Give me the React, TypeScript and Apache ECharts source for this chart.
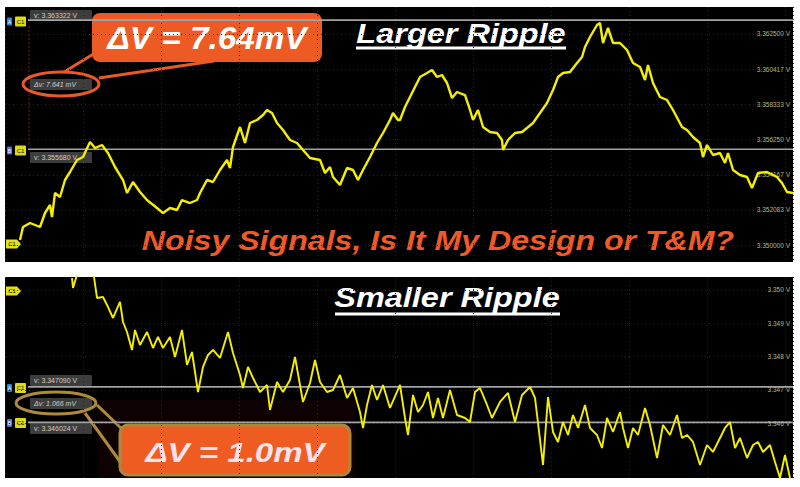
import React, { useEffect, useRef } from "react";
import * as echarts from "echarts";

// Time (µs, arbitrary scope units) vs. voltage (V)
const topTrace: [number, number][] = [
  [15, 3.350307], [18, 3.351076], [25, 3.351313], [35, 3.351076], [40, 3.351905], [45, 3.352379], [47, 3.351668],
  [50, 3.353089], [55, 3.352852], [60, 3.353858], [65, 3.354332], [72, 3.355042], [78, 3.35522], [85, 3.356107],
  [90, 3.355752], [97, 3.35593], [103, 3.355456], [110, 3.354628], [118, 3.353858], [122, 3.353089], [128, 3.35374],
  [135, 3.353148], [142, 3.352674], [152, 3.352201], [158, 3.351905], [165, 3.352201], [172, 3.352083], [177, 3.352674],
  [185, 3.352497], [192, 3.352674], [195, 3.353089], [202, 3.353858], [208, 3.35374], [215, 3.35445], [222, 3.355042],
  [225, 3.354569], [228, 3.355812], [235, 3.356995], [240, 3.356048], [245, 3.357232], [252, 3.35741], [258, 3.357706],
  [262, 3.358002], [267, 3.357824], [272, 3.357232], [278, 3.356818], [285, 3.356226], [292, 3.356048], [298, 3.355634],
  [305, 3.35516], [315, 3.355042], [320, 3.354273], [325, 3.354628], [328, 3.354036], [335, 3.353562], [342, 3.354569],
  [348, 3.35445], [353, 3.353858], [358, 3.35445], [365, 3.35522], [372, 3.356048], [378, 3.35664], [385, 3.35741],
  [388, 3.357824], [393, 3.35741], [395, 3.35741], [400, 3.358179], [405, 3.358771], [410, 3.359363], [415, 3.359955],
  [422, 3.360192], [427, 3.360369], [432, 3.359955], [437, 3.360073], [442, 3.3596], [447, 3.358712], [452, 3.359067],
  [460, 3.358889], [465, 3.358002], [468, 3.35741], [473, 3.358002], [478, 3.356995], [485, 3.356699], [492, 3.35664],
  [497, 3.356226], [498, 3.355634], [503, 3.356226], [510, 3.35664], [517, 3.356699], [522, 3.356936], [528, 3.357232],
  [535, 3.357824], [542, 3.358416], [548, 3.359185], [553, 3.359955], [558, 3.360192], [565, 3.360251], [572, 3.360783],
  [577, 3.361139], [580, 3.36173], [585, 3.362322], [592, 3.363033], [595, 3.363151], [598, 3.361967], [603, 3.362855],
  [608, 3.361967], [615, 3.361967], [622, 3.361553], [628, 3.360783], [635, 3.360547], [640, 3.359777], [643, 3.360665],
  [648, 3.3596], [655, 3.358771], [662, 3.358593], [668, 3.358002], [677, 3.356995], [682, 3.356818], [688, 3.356403],
  [695, 3.356048], [698, 3.35522], [702, 3.35593], [708, 3.355338], [715, 3.355456], [720, 3.354864], [723, 3.355456],
  [728, 3.35445], [735, 3.354154], [742, 3.354036], [747, 3.353385], [753, 3.354273], [762, 3.354332], [772, 3.354036],
  [777, 3.353681], [782, 3.353148], [788, 3.353089],
];

const bottomTrace: [number, number][] = [
  [67, 3.35036], [68, 3.35006], [75, 3.350751], [88, 3.350601], [92, 3.34976], [98, 3.34979], [102, 3.34955],
  [108, 3.349159], [115, 3.34964], [118, 3.349039], [122, 3.348739], [127, 3.348198], [130, 3.348799], [135, 3.348348],
  [142, 3.348739], [148, 3.348258], [153, 3.348589], [158, 3.348258], [165, 3.348589], [170, 3.347988], [177, 3.348799],
  [182, 3.347748], [187, 3.348138], [193, 3.346937], [198, 3.347688], [203, 3.348048], [208, 3.348198], [215, 3.347958],
  [223, 3.348739], [228, 3.348108], [235, 3.347447], [238, 3.347057], [243, 3.347688], [248, 3.347357], [255, 3.346937],
  [262, 3.347147], [265, 3.346396], [272, 3.347237], [278, 3.346937], [285, 3.347297], [290, 3.347988], [295, 3.347147],
  [298, 3.346637], [305, 3.347207], [310, 3.347898], [315, 3.347237], [322, 3.346937], [328, 3.346997], [335, 3.347447],
  [342, 3.346757], [348, 3.347057], [355, 3.346336], [358, 3.345856], [362, 3.346547], [367, 3.347147], [372, 3.346697],
  [378, 3.347147], [385, 3.346457], [392, 3.346937], [395, 3.347147], [400, 3.346156], [403, 3.345646], [408, 3.346847],
  [413, 3.346336], [418, 3.346547], [423, 3.346937], [428, 3.346156], [433, 3.346757], [438, 3.346156], [445, 3.346997],
  [452, 3.346246], [460, 3.346156], [465, 3.346036], [470, 3.346937], [475, 3.347057], [482, 3.346547], [487, 3.346156],
  [495, 3.346637], [503, 3.346907], [510, 3.346036], [517, 3.346847], [525, 3.347087], [530, 3.346757], [533, 3.346006],
  [538, 3.344745], [543, 3.346787], [548, 3.345736], [553, 3.345436], [558, 3.346036], [563, 3.345646], [568, 3.346246],
  [573, 3.345856], [580, 3.346547], [585, 3.345856], [592, 3.345646], [597, 3.345255], [602, 3.346156], [608, 3.345736],
  [615, 3.346336], [618, 3.345856], [623, 3.345255], [628, 3.345856], [633, 3.345646], [640, 3.346457], [645, 3.345946],
  [652, 3.344955], [658, 3.345946], [665, 3.345646], [672, 3.346246], [677, 3.345556], [682, 3.345646], [688, 3.345436],
  [695, 3.344745], [702, 3.345345], [708, 3.345135], [715, 3.345556], [720, 3.345856], [725, 3.346036], [730, 3.345255],
  [735, 3.345556], [742, 3.344955], [748, 3.345345], [753, 3.345436], [758, 3.345135], [765, 3.345345], [770, 3.344835],
  [775, 3.344354], [780, 3.345045], [785, 3.344354],
];

const topTicks = [3.35, 3.352083, 3.354167, 3.35625, 3.358333, 3.360417, 3.3625];
const bottomTicks = [3.346, 3.347, 3.348, 3.349, 3.35];
const topCursors = [3.363322, 3.35568];
const bottomCursors = [3.34709, 3.346024];
const topRange = [3.349005, 3.364098];
const bottomRange = [3.344354, 3.35039];
const timeRange = [0, 788];
const cursorSpan = [23, 788];
const topReadouts = ["v: 3.363322 V", "Δv: 7.641 mV", "v: 3.355680 V"];
const bottomReadouts = ["v: 3.347090 V", "Δv: 1.066 mV", "v: 3.346024 V"];

const FONT = '"Liberation Sans", Arial, Helvetica, sans-serif';
const TRACE = "#f4ef00";
const GRIDC = "#262626";

function box(x: number, y: number, text: string, italic = false): any[] {
  return [
    { type: "rect", shape: { x, y, width: 62, height: 11, r: 1 }, style: { fill: "#3d3d3d" } },
    {
      type: "text", x: x + 4, y: y + 5.5,
      style: { text, fill: "#cfcfcf", fontSize: 7, fontFamily: FONT, fontStyle: italic ? "italic" : "normal", align: "left", verticalAlign: "middle" },
    },
  ];
}

function marker(y: number, letter: string): any[] {
  return [
    { type: "rect", shape: { x: 7, y: y - 4, width: 5, height: 8, r: 1 }, style: { fill: letter === "A" ? "#2f86d6" : "#5b6fd8" } },
    { type: "text", x: 9.5, y, style: { text: letter, fill: "#fff", fontSize: 5, fontFamily: FONT, align: "center", verticalAlign: "middle" } },
    { type: "rect", shape: { x: 15, y: y - 5, width: 11, height: 10, r: 1 }, style: { fill: "#dcdc10" } },
    { type: "text", x: 20.5, y, style: { text: "C1", fill: "#111", fontSize: 6, fontFamily: FONT, align: "center", verticalAlign: "middle" } },
  ];
}

function pentagon(y: number): any[] {
  return [
    { type: "polygon", shape: { points: [[6, y - 4.5], [17, y - 4.5], [21, y], [17, y + 4.5], [6, y + 4.5]] }, style: { fill: "#e4e210" } },
    { type: "text", x: 12, y, style: { text: "C1", fill: "#111", fontSize: 6, fontFamily: FONT, align: "center", verticalAlign: "middle" } },
  ];
}

function bigText(text: string, x: number, y: number, size: number, fill: string, scaleX: number, extra: any = {}): any {
  return {
    type: "text", x, y, scaleX,
    style: { text, fill, fontSize: size, fontWeight: "bold", fontStyle: "italic", fontFamily: FONT, align: "center", verticalAlign: "middle", ...extra },
  };
}

export default function App() {
  const ref = useRef<HTMLDivElement>(null);
  useEffect(() => {
    if (!ref.current) return;
    const chart = echarts.init(ref.current, null, { renderer: "svg" });
    const xAxisBase = (gridIndex: number) => ({
      gridIndex, type: "value", min: timeRange[0], max: timeRange[1], interval: 78,
      axisLine: { show: false }, axisTick: { show: false }, axisLabel: { show: false },
      splitLine: { show: true, lineStyle: { color: GRIDC, type: [1, 3], width: 1 } },
    });
    const yAxisBase = (gridIndex: number, range: number[], ticks: number[], digits: number) => ({
      gridIndex, type: "value", position: "right", min: range[0], max: range[1], scale: true,
      axisLine: { show: false },
      axisTick: { show: false, customValues: ticks },
      axisLabel: {
        inside: true, customValues: ticks, margin: 3, fontSize: 6.5, color: "#bdb57a", fontFamily: FONT,
        formatter: (v: number) => v.toFixed(digits) + " V",
      },
      splitLine: { show: true, lineStyle: { color: GRIDC, type: [1, 3], width: 1 } },
    });
    const cursorSeries = (axisIndex: number, v: number) => ({
      type: "line", xAxisIndex: axisIndex, yAxisIndex: axisIndex, silent: true, showSymbol: false, z: 2,
      data: [[cursorSpan[0], v], [cursorSpan[1], v]],
      lineStyle: { color: "#a3a3a3", width: 1.6 },
    });

    const graphics: any[] = [
      // top panel annotations
      { type: "line", shape: { x1: 29, y1: 26, x2: 29, y2: 146 }, style: { stroke: "#8c1010", lineWidth: 1, lineDash: [2, 2] } },
      ...marker(21.5, "A"),
      ...box(30, 10, topReadouts[0]),
      ...box(30, 79, topReadouts[1], true),
      ...marker(150.5, "B"),
      ...box(30, 152, topReadouts[2]),
      ...pentagon(244),
      { type: "ellipse", shape: { cx: 61, cy: 84, rx: 38, ry: 12 }, style: { fill: "none", stroke: "#e85a28", lineWidth: 3 } },
      { type: "polyline", shape: { points: [[64, 72], [100, 50]] }, style: { stroke: "#e85a28", lineWidth: 3, fill: "none" } },
      { type: "polyline", shape: { points: [[99, 78], [214, 61]] }, style: { stroke: "#e85a28", lineWidth: 3, fill: "none" } },
      { type: "rect", shape: { x: 92, y: 13, width: 230, height: 49, r: 8 }, style: { fill: "#ee5a24" } },
      bigText("ΔV = 7.64mV", 207, 38, 32, "#ffffff", 1.04),
      bigText("Larger Ripple", 461, 33, 28, "#ffffff", 1.16),
      { type: "rect", shape: { x: 356, y: 46.5, width: 210, height: 3 }, style: { fill: "#ffffff" } },
      bigText("Noisy Signals, Is It My Design or T&M?", 438, 240, 27, "#f05a28", 1.19),

      // bottom panel annotations
      ...pentagon(291),
      ...marker(388, "A"),
      ...box(30, 375, bottomReadouts[0]),
      ...marker(423, "B"),
      ...box(30, 423, bottomReadouts[2]),
      { type: "rect", shape: { x: 98, y: 400, width: 258, height: 78 }, style: { fill: "#0d0101" } },
      ...box(30, 398, bottomReadouts[1], true),
      { type: "ellipse", shape: { cx: 56, cy: 403, rx: 40, ry: 11 }, style: { fill: "none", stroke: "#ae8a3c", lineWidth: 3 } },
      { type: "polyline", shape: { points: [[85, 413], [121, 463]] }, style: { stroke: "#ae8a3c", lineWidth: 3, fill: "none" } },
      { type: "polyline", shape: { points: [[97, 405], [123, 430]] }, style: { stroke: "#ae8a3c", lineWidth: 3, fill: "none" } },
      { type: "rect", shape: { x: 120, y: 425, width: 230, height: 50, r: 8 }, style: { fill: "#ee5c22", stroke: "#a88a3c", lineWidth: 3 } },
      bigText("ΔV = 1.0mV", 235, 452, 28, "#fbe2ec", 1.18),
      bigText("Smaller Ripple", 447, 297, 28, "#ffffff", 1.16),
      { type: "rect", shape: { x: 335, y: 312.5, width: 225, height: 3 }, style: { fill: "#ffffff" } },
    ];

    chart.setOption({
      animation: false,
      backgroundColor: "#ffffff",
      grid: [
        { left: 5, top: 7, width: 788, height: 255, show: true, backgroundColor: "#000000", borderWidth: 0 },
        { left: 5, top: 277, width: 788, height: 201, show: true, backgroundColor: "#000000", borderWidth: 0 },
      ],
      xAxis: [xAxisBase(0), xAxisBase(1)],
      yAxis: [yAxisBase(0, topRange, topTicks, 6), yAxisBase(1, bottomRange, bottomTicks, 3)],
      series: [
        cursorSeries(0, topCursors[0]),
        cursorSeries(0, topCursors[1]),
        cursorSeries(1, bottomCursors[0]),
        cursorSeries(1, bottomCursors[1]),
        {
          type: "line", xAxisIndex: 0, yAxisIndex: 0, data: topTrace, showSymbol: false, clip: true,
          lineStyle: { color: TRACE, width: 2.4 }, z: 3,
        },
        {
          type: "line", xAxisIndex: 1, yAxisIndex: 1, data: bottomTrace, showSymbol: false, clip: true,
          lineStyle: { color: TRACE, width: 1.9 }, z: 3,
        },
      ],
      graphic: { elements: graphics },
    });
    return () => chart.dispose();
  }, []);
  return <div ref={ref} style={{ position: "fixed", left: 0, top: 0, width: 800, height: 487 }} />;
}
